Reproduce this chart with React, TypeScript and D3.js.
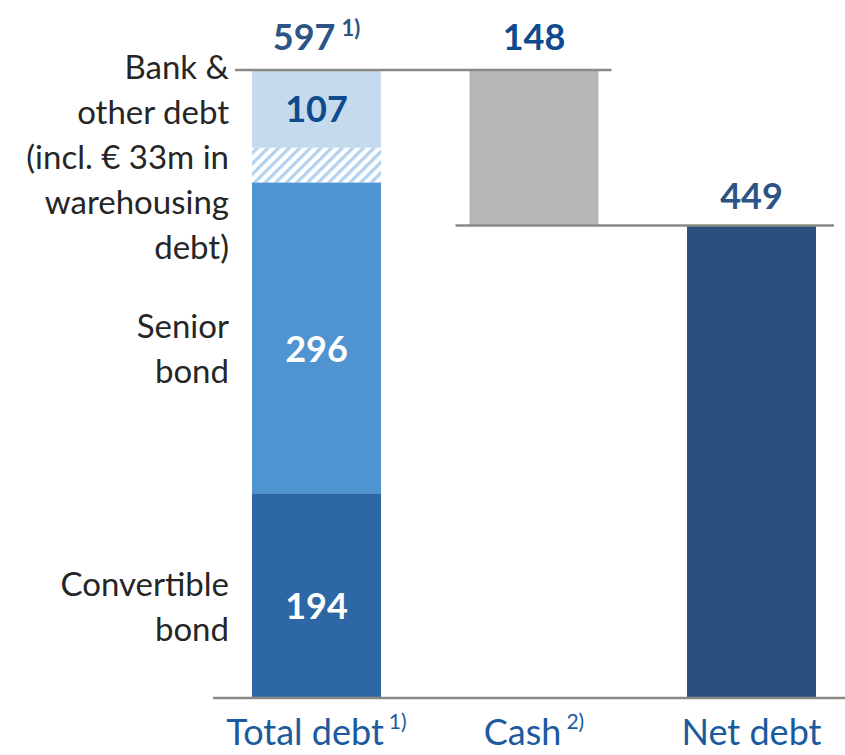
import React from "react";
import * as d3 from "d3";

// ---- data ----
const categories = ["Total debt", "Cash", "Net debt"];
const categoryNotes = ["1)", "2)", ""];
const debtSegmentNames = ["Convertible bond", "Senior bond", "Warehousing debt", "Other bank debt"];
const debtSegmentValues = [194, 296, 33, 74];
const totalDebt = 597;
const cashValue = 148;
const netDebt = 449;
const totalNote = "1)";
const bankLabelLines = ["Bank &", "other debt", "(incl. € 33m in", "warehousing", "debt)"];
const seniorLabelLines = ["Senior", "bond"];
const convertibleLabelLines = ["Convertible", "bond"];

const W = 845;
const H = 755;
const FONT = "Lato, 'Open Sans', 'DejaVu Sans', sans-serif";

export default function App() {
  const y = d3.scaleLinear().domain([0, totalDebt]).range([697, 70]);
  const x = d3
    .scaleBand<string>()
    .domain(categories)
    .range([252, 816])
    .paddingInner(0.407)
    .paddingOuter(0);
  const bw = x.bandwidth();

  const cum = Array.from(d3.cumsum(debtSegmentValues));
  const segs = debtSegmentValues.map((v, i) => ({
    name: debtSegmentNames[i],
    y0: i === 0 ? 0 : cum[i - 1],
    y1: cum[i],
  }));
  const segFill: Record<string, string> = {
    "Convertible bond": "#2E67A6",
    "Senior bond": "#4F93D0",
    "Warehousing debt": "url(#hatch)",
    "Other bank debt": "#C6DAED",
  };

  const xT = x("Total debt")!;
  const xC = x("Cash")!;
  const xN = x("Net debt")!;
  const cx = (c: string) => x(c)! + bw / 2;

  const conv = segs[0];
  const senior = segs[1];
  const other = segs[3];
  const mid = (s: { y0: number; y1: number }) => (y(s.y0) + y(s.y1)) / 2;
  const bankValue = debtSegmentValues[2] + debtSegmentValues[3];

  const valueDark = "#0D4A8E";
  const valueSlate = "#2D5485";
  const lineColor = "#8A8A84";
  const lineH = 45;

  const leftLabel = (lines: string[], firstBaseline: number, key: string) => (
    <text key={key} x={229} y={firstBaseline} textAnchor="end" fontFamily={FONT} fontSize={33} fill="#262626">
      {lines.map((l, i) => (
        <tspan key={i} x={229} y={firstBaseline + i * lineH}>
          {l}
        </tspan>
      ))}
    </text>
  );

  return (
    <svg width={W} height={H} style={{ position: "absolute", left: 0, top: 0, background: "#fff" }}>
      <defs>
        <pattern id="hatch" width={7.5} height={7.5} patternUnits="userSpaceOnUse" patternTransform="rotate(45)">
          <rect width={7.5} height={7.5} fill="#ffffff" />
          <rect width={3.2} height={7.5} fill="#B3D2F0" />
        </pattern>
      </defs>

      {/* debt stack */}
      {segs.map((s) => (
        <rect key={s.name} x={xT} width={bw} y={y(s.y1)} height={y(s.y0) - y(s.y1)} fill={segFill[s.name]} />
      ))}
      {/* cash bar */}
      <rect x={xC} width={bw} y={y(totalDebt)} height={y(netDebt) - y(totalDebt)} fill="#B6B6B6" />
      {/* net debt bar */}
      <rect x={xN} width={bw} y={y(netDebt)} height={y(0) - y(netDebt)} fill="#2B4F7C" />

      {/* connector lines */}
      <line x1={235} x2={xC + bw + 13} y1={y(totalDebt)} y2={y(totalDebt)} stroke={lineColor} strokeWidth={2.5} />
      <line x1={xC - 14} x2={xN + bw + 18} y1={y(netDebt)} y2={y(netDebt)} stroke={lineColor} strokeWidth={2.5} />
      <line x1={213} x2={W} y1={y(0) + 1} y2={y(0) + 1} stroke={lineColor} strokeWidth={2.5} />

      {/* value labels */}
      <text x={cx("Total debt")} y={y(totalDebt) - 20} textAnchor="middle" fontFamily={FONT} fontWeight={700} fontSize={36} fill={valueSlate}>
        {totalDebt}
        <tspan dx={6} dy={-14} fontSize={22}>
          {totalNote}
        </tspan>
      </text>
      <text x={cx("Cash")} y={y(totalDebt) - 20} textAnchor="middle" fontFamily={FONT} fontWeight={700} fontSize={36} fill={valueDark}>
        {cashValue}
      </text>
      <text x={cx("Net debt")} y={y(netDebt) - 16} textAnchor="middle" fontFamily={FONT} fontWeight={700} fontSize={36} fill={valueSlate}>
        {netDebt}
      </text>
      <text x={cx("Total debt")} y={mid(other) + 13} textAnchor="middle" fontFamily={FONT} fontWeight={700} fontSize={36} fill={valueDark}>
        {bankValue}
      </text>
      <text x={cx("Total debt")} y={mid(senior) + 11 + 13} textAnchor="middle" fontFamily={FONT} fontWeight={700} fontSize={36} fill="#ffffff">
        {debtSegmentValues[1]}
      </text>
      <text x={cx("Total debt")} y={mid(conv) + 11 + 13} textAnchor="middle" fontFamily={FONT} fontWeight={700} fontSize={36} fill="#ffffff">
        {debtSegmentValues[0]}
      </text>

      {/* left segment labels */}
      {leftLabel(bankLabelLines, y(totalDebt) + 9, "bank")}
      {leftLabel(seniorLabelLines, mid(senior) + 11 - lineH / 2 + 12, "senior")}
      {leftLabel(convertibleLabelLines, mid(conv) + 11 - lineH / 2 + 12, "conv")}

      {/* category labels */}
      {categories.map((c, i) => (
        <text key={c} x={cx(c)} y={745} textAnchor="middle" fontFamily={FONT} fontSize={36} fill="#1B5A9E">
          {c}
          {categoryNotes[i] && (
            <tspan dx={5} dy={-16} fontSize={21}>
              {categoryNotes[i]}
            </tspan>
          )}
        </text>
      ))}
    </svg>
  );
}
